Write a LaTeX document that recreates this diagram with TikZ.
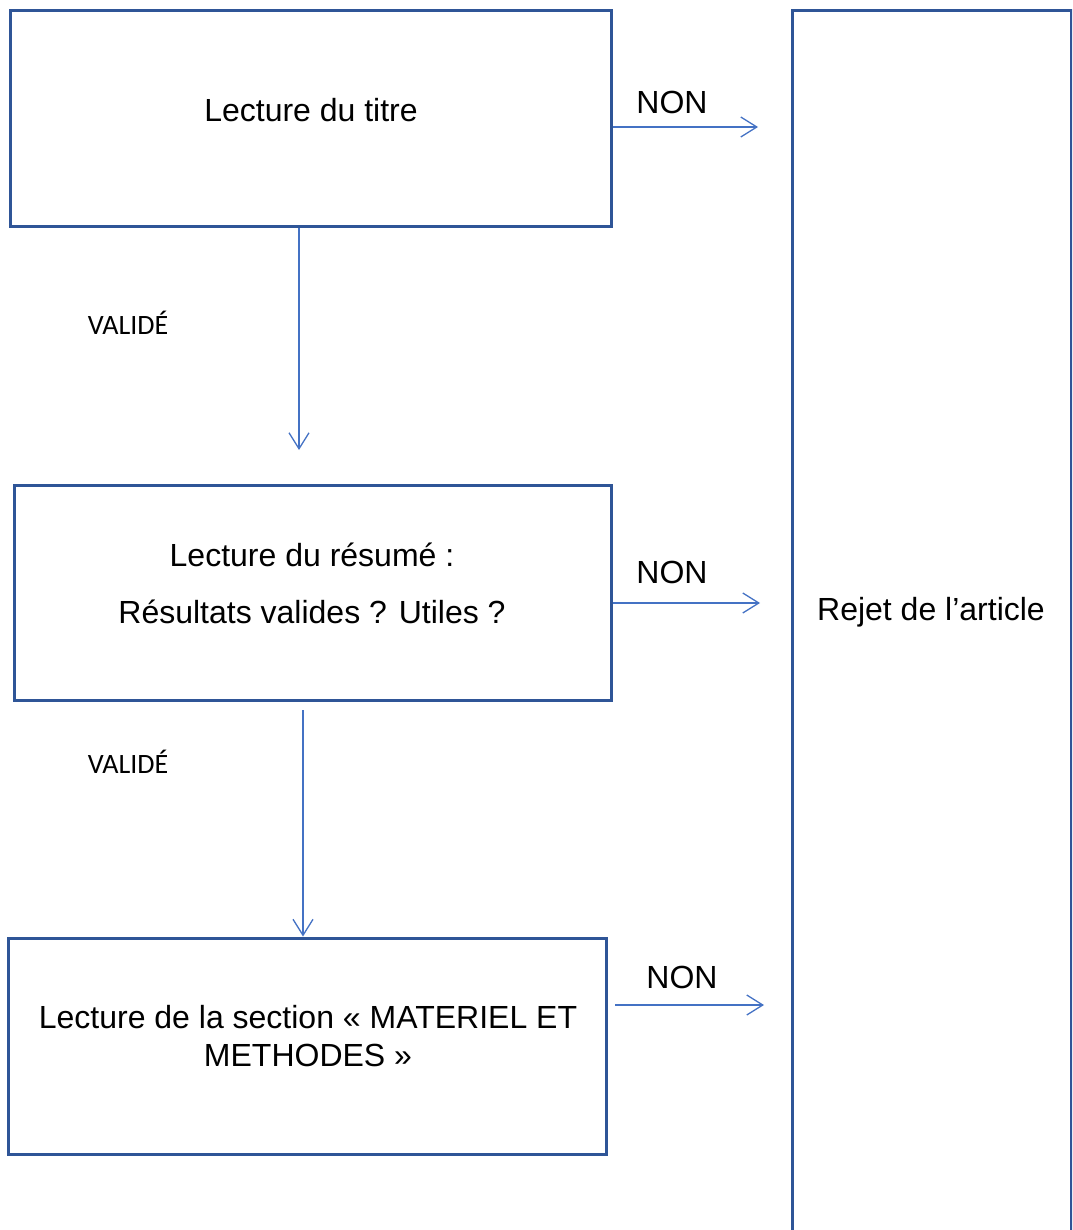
\documentclass[tikz,border=0pt]{standalone}
\usepackage{fontspec}
\setmainfont{Liberation Sans}
\newfontfamily\calibrifont{Carlito}
\usepackage{tikz}
\usetikzlibrary{arrows.meta}
\usetikzlibrary{calc}

\definecolor{boxblue}{HTML}{2F5597}
\definecolor{lineblue}{HTML}{4472C4}

\tikzset{
  etape/.style={draw=boxblue, line width=3pt, rectangle, inner sep=0pt},
  txt/.style={font=\fontsize{32}{38}\selectfont, align=center, inner sep=0pt},
  oktxt/.style={font=\calibrifont\fontsize{28}{34}\selectfont, inner sep=0pt},
  flow/.style={draw=lineblue, line width=1.3pt, -{Straight Barb[length=16pt,width=20pt,line width=1.3pt]}}
}

\begin{document}
\begin{tikzpicture}[x=1pt,y=-1pt]
\useasboundingbox (0,0) rectangle (1072,1230);
\clip (0,0) rectangle (1072,1230);
% boxes
\node[etape, minimum width=601pt, minimum height=216pt] (titre) at (310.5,119) {};
\node[etape, minimum width=597pt, minimum height=215pt] (resume) at (312.5,592.5) {};
\node[etape, minimum width=598pt, minimum height=216pt] (methodes) at (307,1046) {};
\node[etape, minimum width=279pt, minimum height=1400pt] (rejet) at (931.5,711) {};
% texts
\node[txt] (t1) at (311,110) {Lecture du titre};
\node[txt] (t2) at (312,555) {Lecture du résumé :};
\node[txt] (t3) at (312,612) {Résultats valides ? Utiles ?};
\node[txt] (t4) at (308,1036) {Lecture de la section « MATERIEL ET\\METHODES »};
\node[txt] (t5) at (931,612) {Rejet de l’article};
% free ends
\coordinate (n1) at (758,127);
\coordinate (n2) at (760,603);
\coordinate (s3) at (615,1005);
\coordinate (n3) at (764,1005);
\coordinate (v1) at (299,450);
\coordinate (s2) at (303,710);
% connectors
\draw[flow] (titre.east |- n1) -- (n1);
\draw[flow] (resume.east |- n2) -- (n2);
\draw[flow] (s3) -- (n3);
\draw[flow] (titre.south -| v1) -- (v1);
\draw[flow] (s2) -- (methodes.north -| s2);
% labels
\node[txt] (non1) at (672,102) {NON};
\node[txt] (non2) at (672,572) {NON};
\node[txt] (non3) at (682,977) {NON};
\node[oktxt] (ok1) at (128,323) {VALIDÉ};
\node[oktxt] (ok2) at (128,762) {VALIDÉ};
\end{tikzpicture}
\end{document}
